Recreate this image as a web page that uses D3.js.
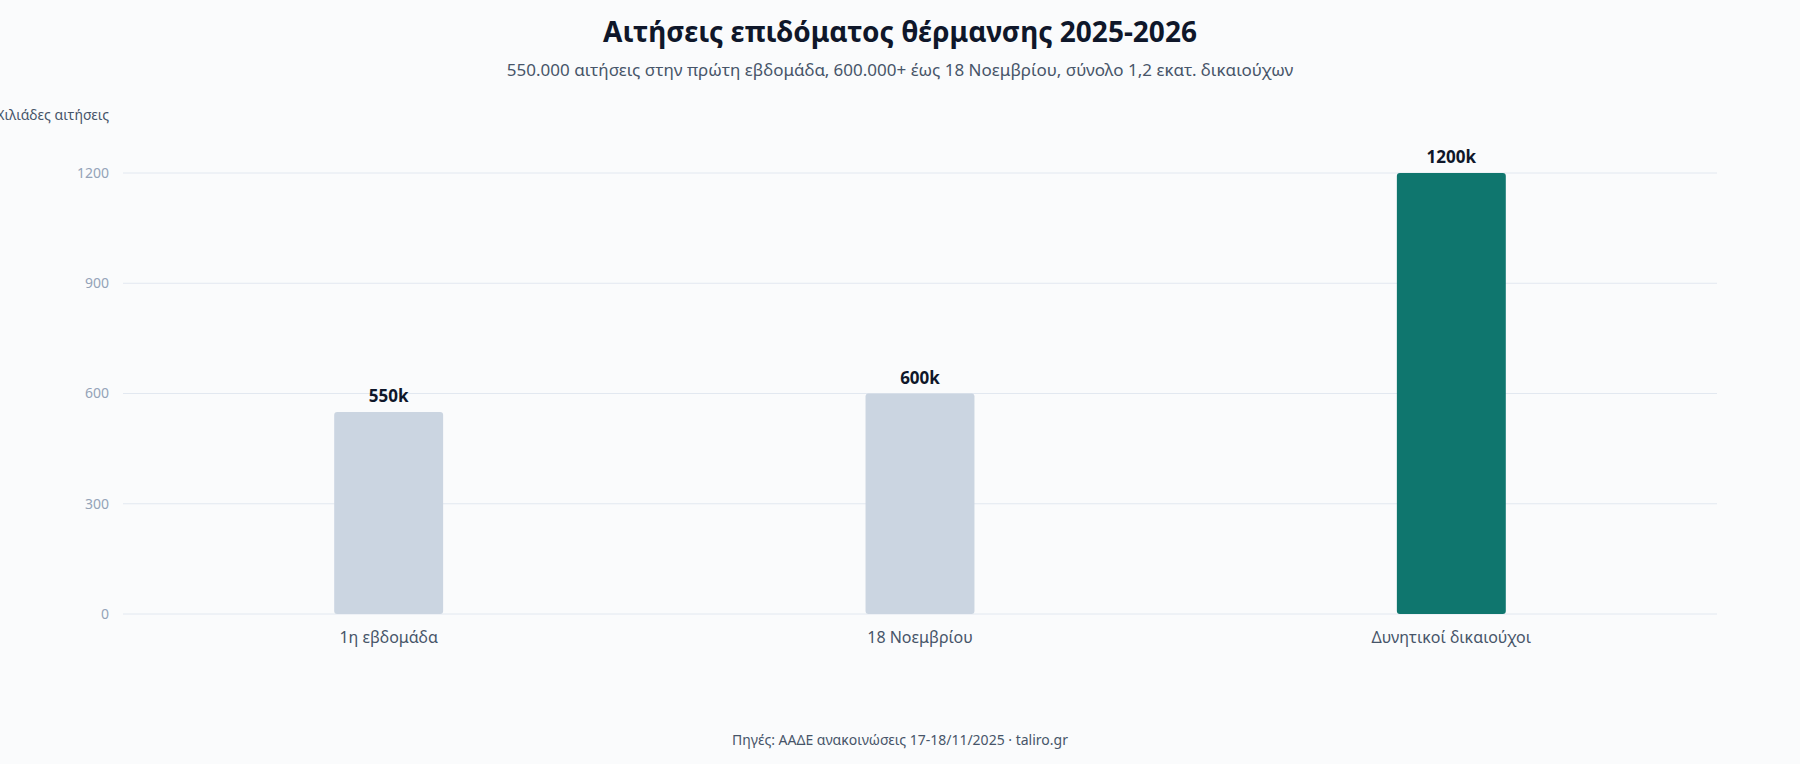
<!DOCTYPE html>
<html>
<head>
<meta charset="utf-8">
<script src="https://cdn.jsdelivr.net/npm/d3@7"></script>
<style>
  body { margin: 0; background: #fafbfc; font-family: "Noto Sans", "Open Sans", sans-serif; }
</style>
</head>
<body>
<svg id="chart"></svg>
<script>
var categories = ['1η εβδομάδα', '18 Νοεμβρίου', 'Δυνητικοί δικαιούχοι'];
var values = [550, 600, 1200];
var labels = ['550k', '600k', '1200k'];
var colors = ['#cbd5e1', '#cbd5e1', '#0f766e'];
var yTicks = [0, 300, 600, 900, 1200];

var width = 1800, height = 764;
var margin = {top: 173, right: 83, bottom: 150, left: 123};

var svg = d3.select('#chart').attr('width', width).attr('height', height);
svg.append('rect').attr('width', width).attr('height', height).attr('fill', '#fafbfc');

var x = d3.scaleBand().domain(categories).range([margin.left, width - margin.right]).padding(0);
var y = d3.scaleLinear().domain([0, 1200]).range([height - margin.bottom, margin.top]);

// grid
svg.append('g').selectAll('line').data(yTicks).enter().append('line')
	.attr('x1', margin.left).attr('x2', width - margin.right)
	.attr('y1', function(d) { return y(d); }).attr('y2', function(d) { return y(d); })
	.attr('stroke', '#e2e8f0').attr('stroke-width', 1);

// y axis
var yAxis = svg.append('g').attr('transform', 'translate(' + margin.left + ',0)')
	.call(d3.axisLeft(y).tickValues(yTicks).tickFormat(d3.format('d')).tickSize(0).tickPadding(14));
yAxis.select('.domain').remove();
yAxis.selectAll('text').attr('fill', '#94a3b8').style('font-size', '14px').style('font-family', '"Noto Sans", sans-serif');

// x axis
var xAxis = svg.append('g').attr('transform', 'translate(0,' + y(0) + ')')
	.call(d3.axisBottom(x).tickSize(0).tickPadding(18));
xAxis.select('.domain').remove();
xAxis.selectAll('text').attr('fill', '#475569').style('font-size', '16px').style('font-family', '"Noto Sans", sans-serif');

var barW = x.bandwidth() * 0.205;

svg.append('g').selectAll('rect').data(values).enter().append('rect')
	.attr('x', function(d, i) { return x(categories[i]) + x.bandwidth() / 2 - barW / 2; })
	.attr('y', function(d) { return y(d); })
	.attr('width', barW)
	.attr('height', function(d) { return y(0) - y(d); })
	.attr('rx', 3)
	.attr('fill', function(d, i) { return colors[i]; });

svg.append('g').selectAll('text').data(values).enter().append('text')
	.attr('x', function(d, i) { return x(categories[i]) + x.bandwidth() / 2; })
	.attr('y', function(d) { return y(d) - 10; })
	.attr('text-anchor', 'middle')
	.attr('fill', '#0f172a')
	.style('font-size', '17px').style('font-weight', 'bold')
	.text(function(d, i) { return labels[i]; });

// title etc
svg.append('text').attr('x', width / 2).attr('y', 42).attr('text-anchor', 'middle')
	.attr('fill', '#0f172a').style('font-size', '28px').style('font-weight', 'bold')
	.text('Αιτήσεις επιδόματος θέρμανσης 2025-2026');
svg.append('text').attr('x', width / 2).attr('y', 76).attr('text-anchor', 'middle')
	.attr('fill', '#475569').style('font-size', '17px')
	.text('550.000 αιτήσεις στην πρώτη εβδομάδα, 600.000+ έως 18 Νοεμβρίου, σύνολο 1,2 εκατ. δικαιούχων');
svg.append('text').attr('x', 109).attr('y', 120).attr('text-anchor', 'end')
	.attr('fill', '#475569').style('font-size', '14px')
	.text('Χιλιάδες αιτήσεις');
svg.append('text').attr('x', width / 2).attr('y', 745).attr('text-anchor', 'middle')
	.attr('fill', '#475569').style('font-size', '14px')
	.text('Πηγές: ΑΑΔΕ ανακοινώσεις 17-18/11/2025 · taliro.gr');
</script>
</body>
</html>
